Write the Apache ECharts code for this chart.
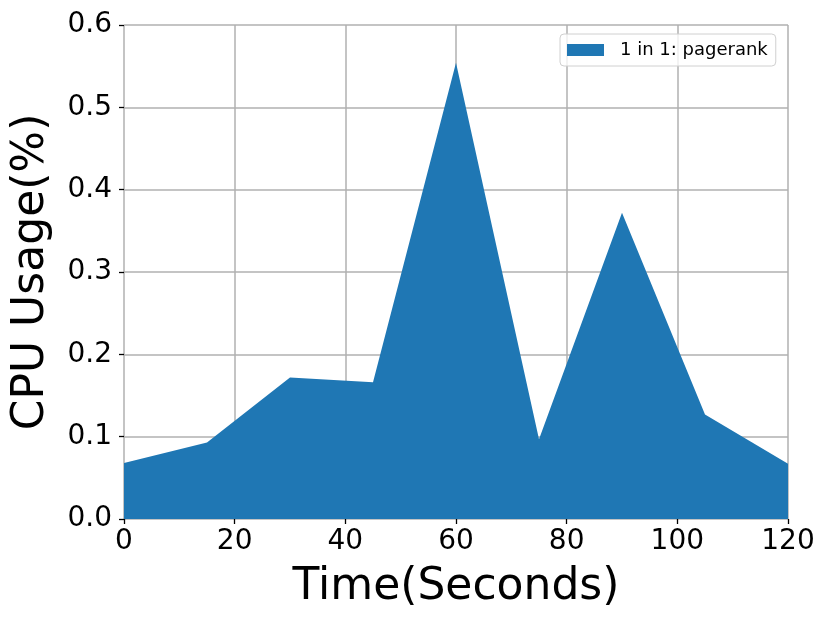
<!DOCTYPE html>
<html>
<head>
<meta charset="utf-8">
<script src="https://cdn.jsdelivr.net/npm/echarts@6/dist/echarts.min.js"></script>
<style>html,body{margin:0;padding:0;background:#fff}#c{width:830px;height:625px}</style>
</head>
<body>
<div id="c"></div>
<script>
const times = [0, 15, 30, 45, 60, 75, 90, 105, 120];
const cpuUsage = [0.068, 0.093, 0.172, 0.166, 0.554, 0.097, 0.372, 0.127, 0.067];
const seriesName = '1 in 1: pagerank';
const xTicks = [0, 20, 40, 60, 80, 100, 120];
const yTicks = [0.0, 0.1, 0.2, 0.3, 0.4, 0.5, 0.6];

const chart = echarts.init(document.getElementById('c'), null, {renderer: 'canvas'});
const font = 'DejaVu Sans';
chart.setOption({
  animation: false,
  backgroundColor: '#fff',
  grid: {left: 124, right: 42, top: 25, bottom: 106},
  legend: {
    left: 560, top: 34,
    data: [{name: seriesName, icon: 'rect'}],
    itemWidth: 37, itemHeight: 12,
    padding: [7, 8, 7, 7],
    borderColor: '#d0d0d0', borderWidth: 1, borderRadius: 4,
    backgroundColor: 'rgba(255,255,255,0.8)',
    textStyle: {fontFamily: font, fontSize: 18, color: '#000', padding: [0, 0, 0, 11]}
  },
  xAxis: {
    type: 'value', min: xTicks[0], max: xTicks[xTicks.length - 1], interval: 20,
    name: 'Time(Seconds)', nameLocation: 'middle', nameGap: 47,
    nameTextStyle: {fontFamily: font, fontSize: 44, color: '#000'},
    axisLine: {show: false},
    axisTick: {show: true, length: 5, lineStyle: {color: '#000', width: 1.3}},
    axisLabel: {fontFamily: font, fontSize: 28, color: '#000', margin: 9},
    splitLine: {show: true, lineStyle: {color: '#b0b0b0', width: 1.5}}
  },
  yAxis: {
    type: 'value', min: yTicks[0], max: yTicks[yTicks.length - 1], interval: 0.1,
    name: 'CPU Usage(%)', nameLocation: 'middle', nameGap: 70, nameRotate: 90,
    nameTextStyle: {fontFamily: font, fontSize: 44, color: '#000'},
    axisLine: {show: false},
    axisTick: {show: true, length: 5, lineStyle: {color: '#000', width: 1.3}},
    axisLabel: {fontFamily: font, fontSize: 28, color: '#000', margin: 12,
      formatter: v => v.toFixed(1)},
    splitLine: {show: true, lineStyle: {color: '#b0b0b0', width: 1.5}}
  },
  series: [{
    name: seriesName, type: 'line', stack: 'total',
    data: times.map((t, i) => [t, cpuUsage[i]]),
    symbol: 'none', color: '#1f77b4',
    lineStyle: {width: 0},
    areaStyle: {color: '#1f77b4', opacity: 1}
  }]
});
</script>
</body>
</html>
